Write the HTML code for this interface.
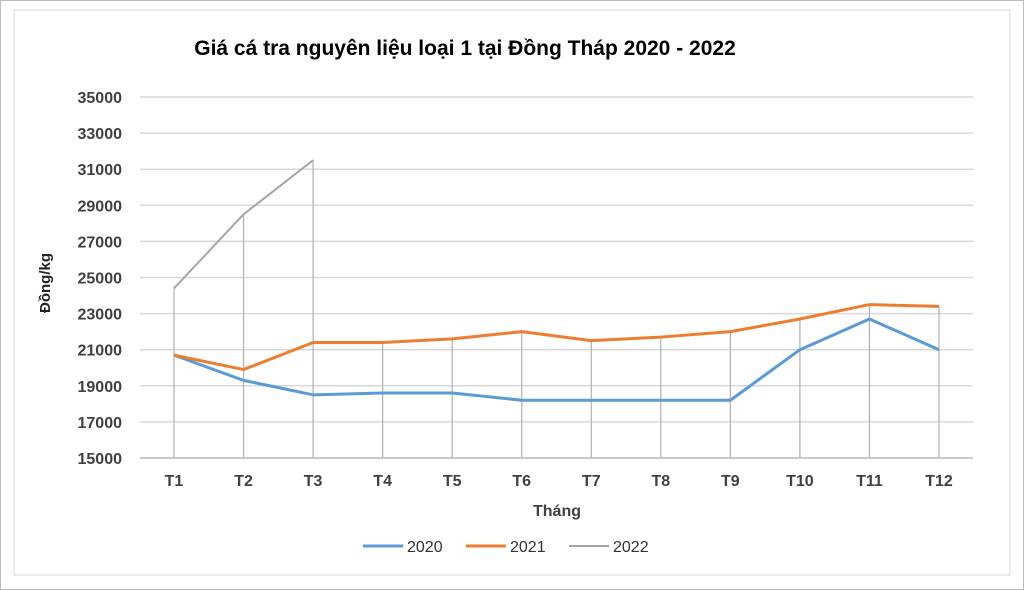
<!DOCTYPE html>
<html><head><meta charset="utf-8"><style>
html,body{margin:0;padding:0;background:#fff;}
svg{display:block;font-family:"Liberation Sans",Arial,sans-serif;}
</style></head><body>
<svg width="1024" height="590" viewBox="0 0 1024 590">
<rect x="0.5" y="0.5" width="1023" height="589" fill="#fff" stroke="#bbb"/>
<rect x="14" y="10" width="996" height="565" fill="#fff" stroke="#d9d9d9"/>
<text x="465" y="55" text-anchor="middle" font-size="21" font-weight="bold" fill="#000">Giá cá tra nguyên liệu loại 1 tại Đồng Tháp 2020 - 2022</text>
<g id="grid"></g><g id="drops"></g><g id="series"></g><g id="axes"></g>
<text transform="translate(50,283) rotate(-90)" text-anchor="middle" font-size="15" font-weight="bold" fill="#222">Đồng/kg</text>
<text x="557" y="516" text-anchor="middle" font-size="16" font-weight="bold" fill="#404040">Tháng</text>
<g>
<line x1="363" y1="546" x2="403" y2="546" stroke="#5b9bd5" stroke-width="3"/>
<text x="407" y="552" font-size="16" fill="#333">2020</text>
<line x1="466" y1="546" x2="506" y2="546" stroke="#ed7d31" stroke-width="3"/>
<text x="510" y="552" font-size="16" fill="#333">2021</text>
<line x1="569" y1="546" x2="609" y2="546" stroke="#a5a5a5" stroke-width="2"/>
<text x="613" y="552" font-size="16" fill="#333">2022</text>
</g>
</svg>
<script>
const categories=["T1","T2","T3","T4","T5","T6","T7","T8","T9","T10","T11","T12"];
const s2020=[20700,19300,18500,18600,18600,18200,18200,18200,18200,21000,22700,21000];
const s2021=[20700,19900,21400,21400,21600,22000,21500,21700,22000,22700,23500,23400];
const s2022=[24400,28500,31500];
const yTicks=[15000,17000,19000,21000,23000,25000,27000,29000,31000,33000,35000];
const NS="http://www.w3.org/2000/svg";
const y0=458,y1=97,vmin=15000,vmax=35000;
function ys(v){return y0-(v-vmin)/(vmax-vmin)*(y0-y1);}
function xs(i){return 174+i*(939-174)/(categories.length-1);}
function mk(tag,attrs,parent){const e=document.createElementNS(NS,tag);for(const k in attrs)e.setAttribute(k,attrs[k]);document.getElementById(parent).appendChild(e);return e;}
yTicks.forEach(t=>{
  const l=mk("line",{x1:140,x2:973,y1:ys(t),y2:ys(t),stroke:"#d9d9d9","stroke-width":1.5},"grid");
  
  
  const tx=mk("text",{x:122,y:ys(t)+6,"text-anchor":"end","font-size":16,"font-weight":"bold",fill:"#404040"},"axes");
  tx.textContent=t;
  
  
});
const ax=mk("line",{x1:140,x2:973,y1:y0,y2:y0,stroke:"#bfbfbf","stroke-width":1.5},"axes");


categories.forEach((c,i)=>{
  const tx=mk("text",{x:xs(i),y:486,"text-anchor":"middle","font-size":16,"font-weight":"bold",fill:"#404040"},"axes");
  tx.textContent=c;
  
  
  const vals=[s2020[i],s2021[i],s2022[i]].filter(v=>v!==undefined);
  const mx=Math.max(...vals);
  const d=mk("line",{x1:xs(i),x2:xs(i),y1:ys(mx),y2:y0,stroke:"#b0b0b0","stroke-width":1.2},"drops");
  
  
});
function line(arr,color,w,name){
  const p=mk("polyline",{points:arr.map((v,i)=>xs(i)+","+ys(v)).join(" "),fill:"none",stroke:color,"stroke-width":w,"stroke-linejoin":"round"},"series");
  
  
}
line(s2022,"#a5a5a5",2,"series-2022");
line(s2020,"#5b9bd5",3,"series-2020");
line(s2021,"#ed7d31",3,"series-2021");
</script>
</body></html>
